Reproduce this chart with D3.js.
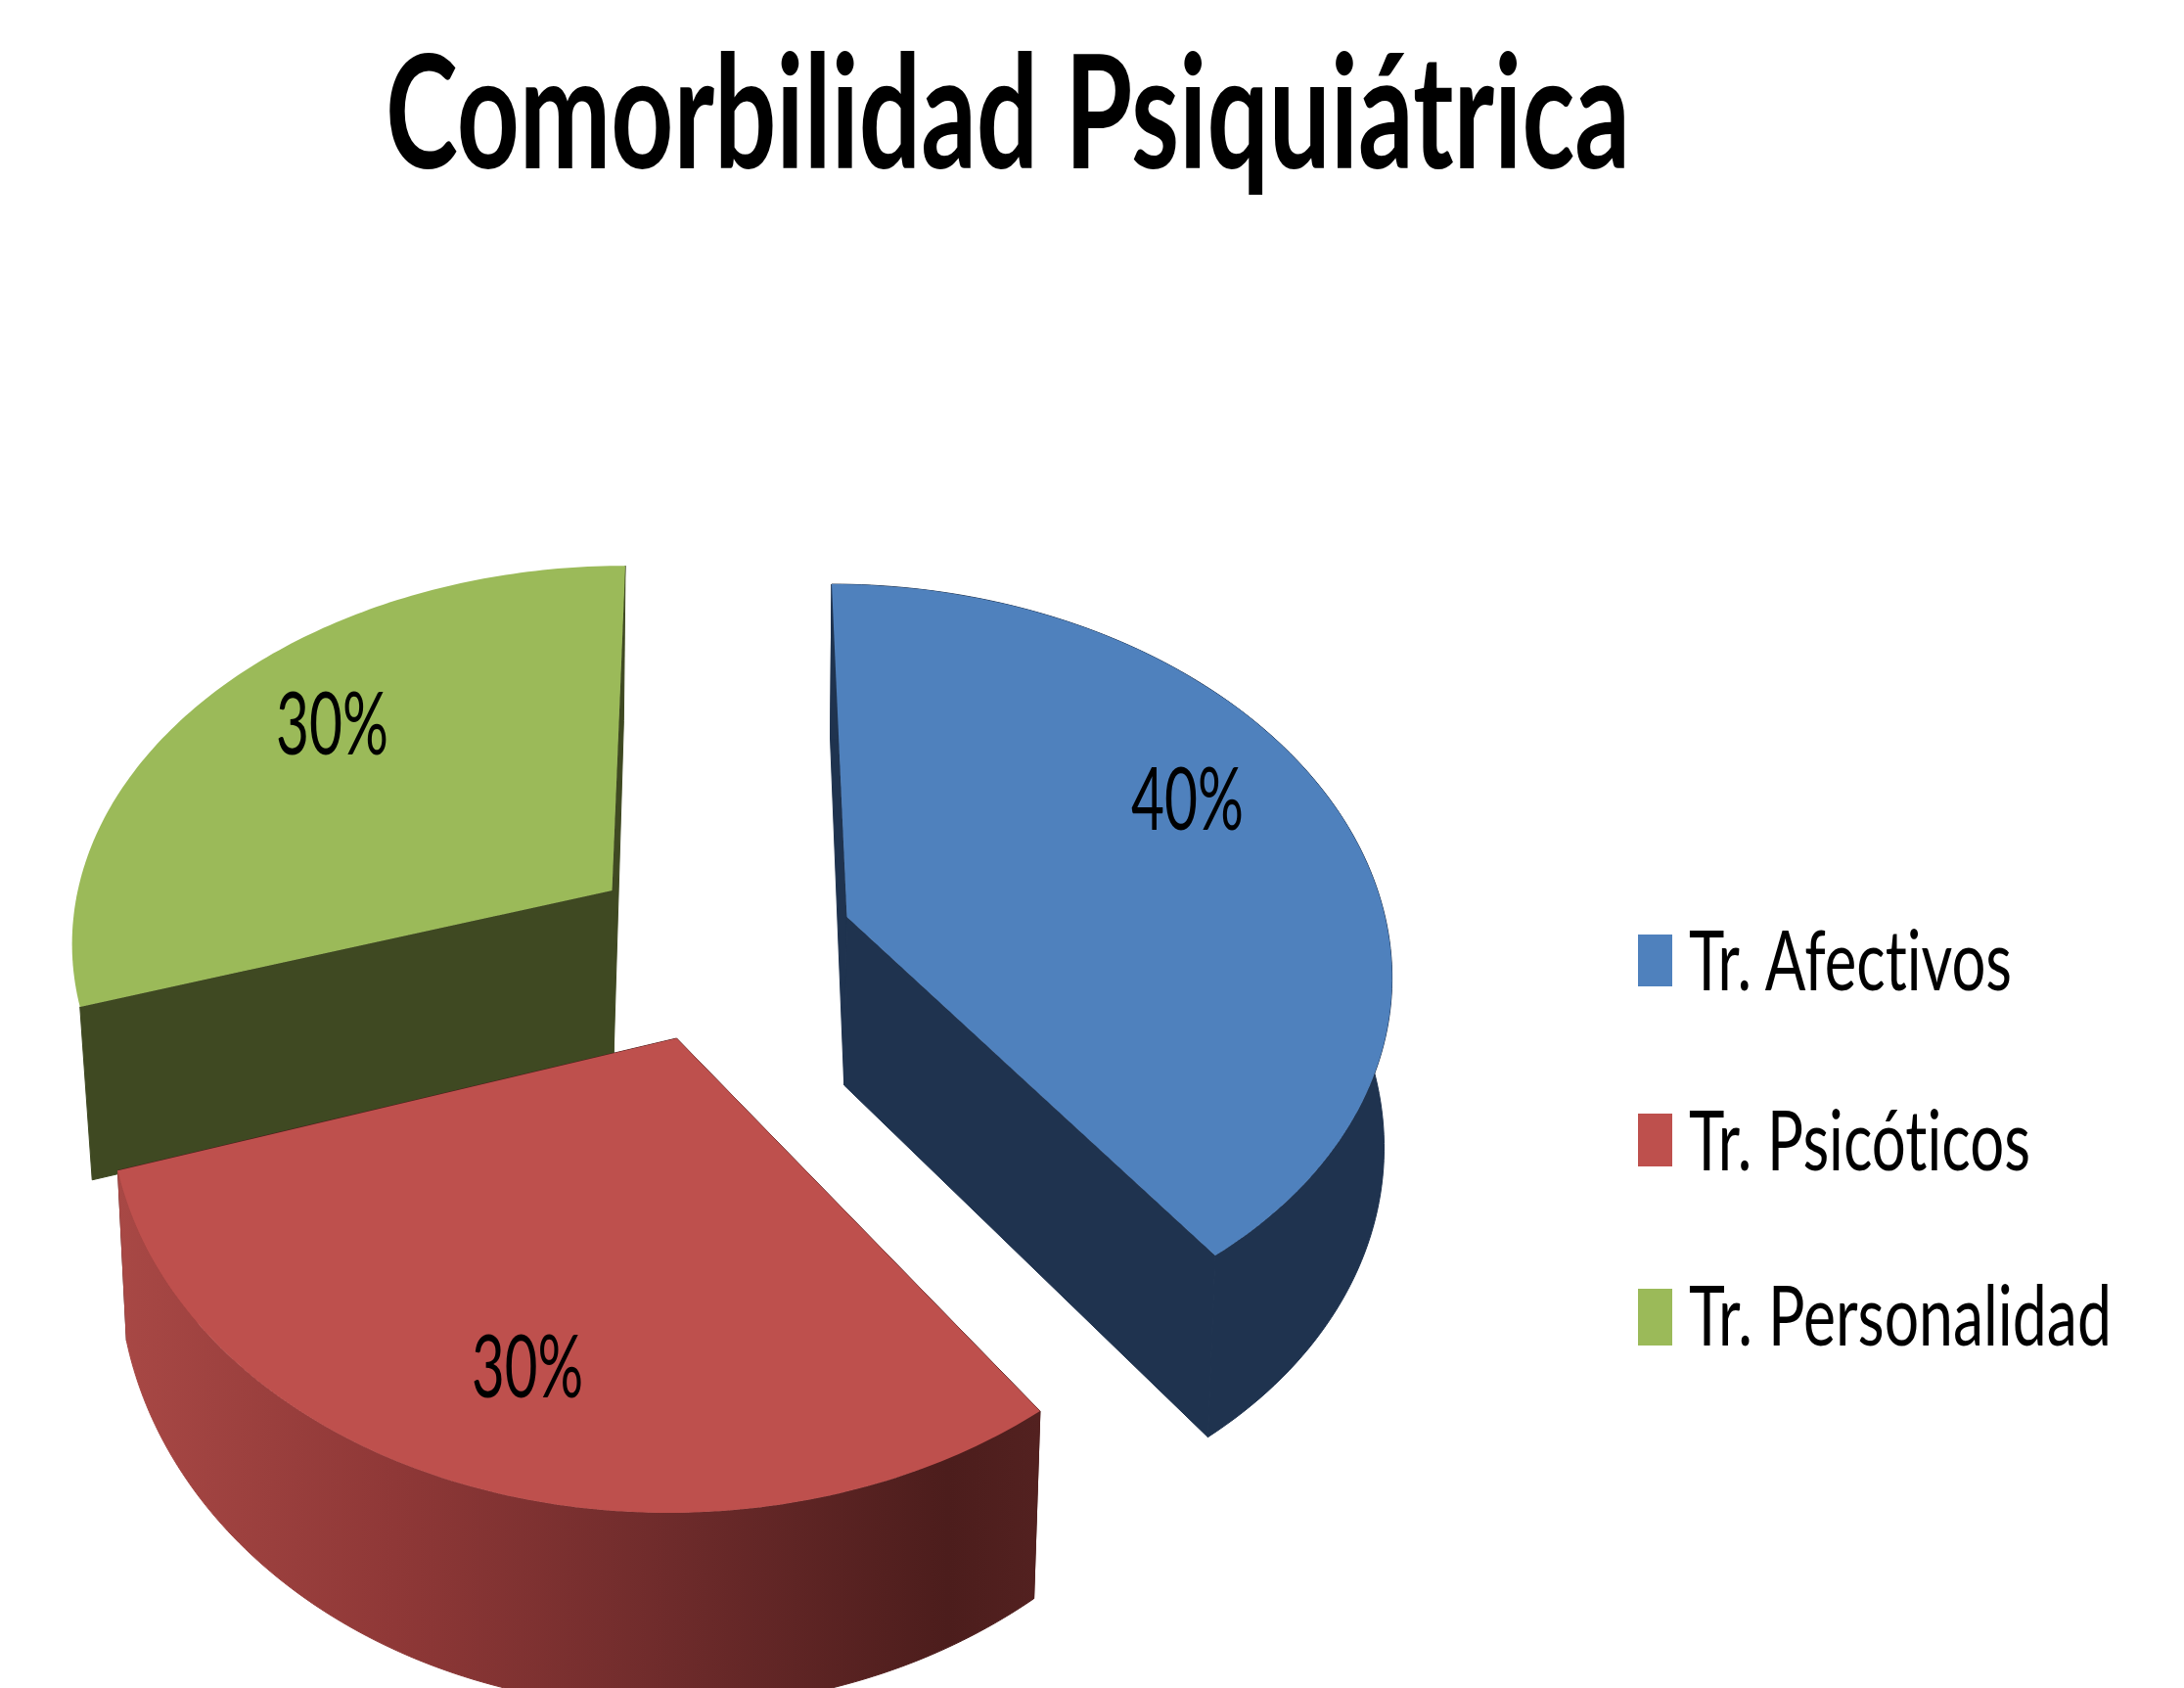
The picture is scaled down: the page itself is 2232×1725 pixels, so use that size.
<!DOCTYPE html>
<html>
<head>
<meta charset="utf-8">
<script src="https://d3js.org/d3.v7.min.js"></script>
<style>
  html, body { margin: 0; padding: 0; background: #fff; overflow: hidden; }
  svg { display: block; }
  text { font-variant-ligatures: none; }
</style>
</head>
<body>
<div id="chart"></div>
<script>
const titleText = 'Comorbilidad Psiquiátrica';
const categories = ['Tr. Afectivos', 'Tr. Psicóticos', 'Tr. Personalidad'];
const values = [40, 30, 30];
const percentLabels = ['40%', '30%', '30%'];

const topColors = ['#4f81bd', '#be504d', '#9bba59'];
const wallColors = ['#1f334f', '#4c1d1c', '#3f4922'];

const svgWidth = 2232;
const svgHeight = 1725;
const font = 'Lato, "Open Sans", sans-serif';

// Each exploded slice has its own perspective: top face, bottom face, label box
const sliceLayout = [
    {
        top: { cx: 865.5, cy: 937, rx: 550, ry: 383.5, k: 0.128, s: 0.0456 },
        bottom: { cx: 862.7, cy: 1109, rx: 545, ry: 398.5, k: 0.128, s: 0.04 },
        label: { x: 1156, y: 848, width: 115 }
    },
    {
        top: { cx: 691.5, cy: 1061, rx: 573, ry: 419.5, k: 0.135, s: -0.0176 },
        bottom: { cx: 691.6, cy: 1225, rx: 564, ry: 450, k: 0.135, s: -0.0176 },
        label: { x: 482, y: 1428, width: 114 }
    },
    {
        top: { cx: 625.5, cy: 910, rx: 546, ry: 371, k: 0.118, s: -0.0407 },
        bottom: { cx: 627, cy: 1082, rx: 536, ry: 386, k: 0.118, s: -0.03 },
        label: { x: 282, y: 771, width: 115 }
    }
];

const legendLayout = [
    { x: 1674, y: 955, h: 53, textY: 1012, width: 330 },
    { x: 1674, y: 1138, h: 54, textY: 1196, width: 349 },
    { x: 1674, y: 1317, h: 58, textY: 1375, width: 432 }
];

const svg = d3.select('#chart')
    .append('svg')
    .attr('width', svgWidth)
    .attr('height', svgHeight);

// Shaded front wall of the red slice
const gradient = svg.append('defs').append('linearGradient')
    .attr('id', 'redWall')
    .attr('gradientUnits', 'userSpaceOnUse')
    .attr('x1', 120).attr('x2', 1063)
    .attr('y1', 0).attr('y2', 0);
[[0, '#a84845'], [0.3, '#8f3837'], [0.6, '#6e2b2b'], [0.9, '#4c1d1c'], [1, '#532120']]
    .forEach(d => gradient.append('stop').attr('offset', d[0]).attr('stop-color', d[1]));

const pie = d3.pie().sort(null).value(d => d);
const arcs = pie(values);
const line = d3.line();

// Pie angle (clockwise from 12 o'clock) to a point on a tilted disc
const project = (face, angle) => {
    const u = Math.sin(angle);
    const v = -Math.cos(angle);
    const w = 1 - face.k * v;
    const dy = face.ry * v / w;
    return [face.cx + face.rx * u / w + face.s * dy, face.cy + dy];
};

const arcPoints = (face, a0, a1) =>
    d3.range(0, 121).map(i => project(face, a0 + (a1 - a0) * i / 120));

const apex = face => [face.cx, face.cy];

// Squeeze a text to the width it has in the reference
const fitText = (selection, x, y, width) => {
    const natural = selection.node().getComputedTextLength();
    selection.attr('transform', `translate(${x},${y}) scale(${width / natural},1)`);
};

// Painted back to front: green, blue, red
const drawOrder = [2, 0, 1];

drawOrder.forEach(i => {
    const { top, bottom } = sliceLayout[i];
    const a0 = arcs[i].startAngle;
    const a1 = arcs[i].endAngle;
    const group = svg.append('g');
    const outerFill = i === 1 ? 'url(#redWall)' : wallColors[i];

    // Flat side walls
    [a0, a1].forEach(a => {
        group.append('path')
            .attr('d', line([apex(top), project(top, a), project(bottom, a), apex(bottom)]) + 'Z')
            .attr('fill', wallColors[i])
            .attr('stroke', wallColors[i]);
    });

    // Curved outer wall, the green slice faces away so it has none showing
    if (i !== 2) {
        group.append('path')
            .attr('d', line(arcPoints(top, a0, a1).concat(arcPoints(bottom, a1, a0))) + 'Z')
            .attr('fill', outerFill)
            .attr('stroke', outerFill);
    }

    // Top face
    group.append('path')
        .attr('d', line([apex(top)].concat(arcPoints(top, a0, a1))) + 'Z')
        .attr('fill', topColors[i]);

    // Percent label
    const label = sliceLayout[i].label;
    group.append('text')
        .style('font-family', font)
        .style('font-size', '90px')
        .attr('fill', '#000')
        .text(percentLabels[i])
        .call(fitText, label.x, label.y, label.width);
});

// Title
svg.append('text')
    .style('font-family', font)
    .style('font-weight', 700)
    .style('font-size', '160px')
    .attr('fill', '#000')
    .text(titleText)
    .call(fitText, 394, 172, 1272);

// Legend
const legend = svg.append('g');
categories.forEach((name, i) => {
    const item = legendLayout[i];
    legend.append('rect')
        .attr('x', item.x)
        .attr('y', item.y)
        .attr('width', 35)
        .attr('height', item.h)
        .attr('fill', topColors[i]);
    legend.append('text')
        .style('font-family', font)
        .style('font-size', '85px')
        .attr('fill', '#000')
        .text(name)
        .call(fitText, 1726, item.textY, item.width);
});
</script>
</body>
</html>
